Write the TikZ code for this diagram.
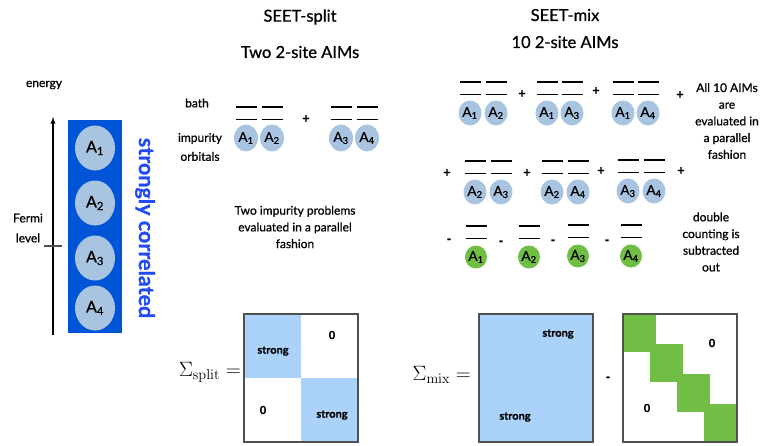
\documentclass[tikz,border=0pt]{standalone}
\usepackage[no-math]{fontspec}
\setmainfont{Lato}[FakeBold=0.8]
\usetikzlibrary{shapes.geometric}

\definecolor{corrblue}{RGB}{0,85,214}
\definecolor{corrtext}{RGB}{35,75,245}
\definecolor{orbblue}{RGB}{168,196,224}
\definecolor{selfblue}{RGB}{170,210,250}
\definecolor{dcgreen}{RGB}{112,190,68}
\definecolor{framegray}{RGB}{80,80,80}

\begin{document}
\begin{tikzpicture}[
        x=1pt, y=-1pt,
        orb/.style={ellipse, fill=orbblue, inner sep=0pt, minimum width=23pt,
          minimum height=25pt, font=\fontsize{13.5}{13.5}\selectfont},
        bigorb/.style={orb, minimum width=40pt, minimum height=45pt,
          font=\fontsize{16}{16}\selectfont},
        splitorb/.style={orb, minimum width=24pt, minimum height=27pt},
        dcorb/.style={orb, fill=dcgreen, minimum width=22pt, minimum height=23pt},
        title/.style={font=\fontsize{16.5}{20}\selectfont},
        note/.style={align=center, font=\fontsize{12}{16.7}\selectfont},
        op/.style={font=\fontsize{13}{13}\selectfont\bfseries},
        level/.style={line width=1.2pt},
        entry/.style={font=\fontsize{11}{12}\selectfont\bfseries},
        sigma/.style={font=\fontsize{22}{24}\selectfont, inner sep=0pt}]

  \useasboundingbox (0,0) rectangle (760,445);

  % energy axis and strongly correlated orbitals -----------
  \node[note] (energy) at (44,85) {energy};
  \coordinate (ebot) at (53,335);
  \coordinate (etop) at (53,117);
  \draw[line width=1.3pt, -latex] (ebot) -- (etop);
  \draw[line width=2.5pt, framegray] (44,246) -- (62,246);
  \node[note, font=\fontsize{12}{20}\selectfont] (fermi) at (28,228) {Fermi\\level};
  \fill[corrblue] (68,120) rectangle (122,333);
  \node[bigorb] (a1) at (95,148) {A\textsubscript{1}};
  \node[bigorb] (a2) at (95,203) {A\textsubscript{2}};
  \node[bigorb] (a3) at (95,258) {A\textsubscript{3}};
  \node[bigorb] (a4) at (95,308) {A\textsubscript{4}};
  \node[rotate=-90, text=corrtext, font=\fontsize{21.5}{21.5}\selectfont\bfseries]
    (corr) at (145,228) {strongly correlated};

  % SEET-split ----------------------------------------------
  \node[title] (splittitle) at (300,17) {SEET-split};
  \node[title] (splitsub) at (300,52) {Two 2-site AIMs};
  \node[note] (bath) at (197,103) {bath};
  \node[note, font=\fontsize{12}{19}\selectfont] (imp) at (200,147) {impurity\\orbitals};
  \node[splitorb] (s1) at (246,138) {A\textsubscript{1}};
  \node[splitorb] (s2) at (272,138) {A\textsubscript{2}};
  \node[splitorb] (s3) at (341,138) {A\textsubscript{3}};
  \node[splitorb] (s4) at (367,138) {A\textsubscript{4}};
  \node[op] (splitplus) at (306,119) {+};
  \node[note] (splitnote) at (295,227)
    {Two impurity problems\\evaluated in a parallel\\fashion};

  % SEET-mix ------------------------------------------------
  \node[title] (mixtitle) at (565,15) {SEET-mix};
  \node[title] (mixsub) at (565,42) {10 2-site AIMs};
  \node[orb] (m12l) at (470,113) {A\textsubscript{1}};
  \node[orb] (m12r) at (496,113) {A\textsubscript{2}};
  \node[orb] (m13l) at (547,113) {A\textsubscript{1}};
  \node[orb] (m13r) at (572,113) {A\textsubscript{3}};
  \node[orb] (m14l) at (623,113) {A\textsubscript{1}};
  \node[orb] (m14r) at (648,113) {A\textsubscript{4}};
  \node[orb] (m23l) at (475,192) {A\textsubscript{2}};
  \node[orb] (m23r) at (501,192) {A\textsubscript{3}};
  \node[orb] (m24l) at (552,192) {A\textsubscript{2}};
  \node[orb] (m24r) at (578,192) {A\textsubscript{4}};
  \node[orb] (m34l) at (628,191) {A\textsubscript{3}};
  \node[orb] (m34r) at (654,191) {A\textsubscript{4}};
  \node[dcorb] (d1) at (476,257) {A\textsubscript{1}};
  \node[dcorb] (d2) at (529,257) {A\textsubscript{2}};
  \node[dcorb] (d3) at (578,256) {A\textsubscript{3}};
  \node[dcorb] (d4) at (631,256) {A\textsubscript{4}};

  \foreach \x/\y in {522/94, 596/91, 680/95, 447/173, 527/173, 601/171, 681/171}
    \node[op] at (\x,\y) {+};
  \foreach \x/\y in {449/241, 501/243, 553/242, 607/242}
    \node[op] at (\x,\y) {-};

  \node[note] (allnote) at (727,121)
    {All 10 AIMs\\are\\evaluated in\\a parallel\\fashion};
  \node[note] (dcnote) at (711,242)
    {double\\counting is\\subtracted\\out};

  % bath levels above every impurity orbital ---------------
  \foreach \n in {s1,s2,s3,s4,m12l,m12r,m13l,m13r,m14l,m14r,
                  m23l,m23r,m24l,m24r,m34l,m34r,d1,d2,d3,d4}
    \draw[level] ([shift={(-10.5,-31)}]\n.center) -- ++(21,0)
                 ([shift={(-10.5,-18.5)}]\n.center) -- ++(21,0);

  % self-energy matrices -----------------------------------
  \node[sigma, anchor=east] (sigsplit) at (241,372) {$\Sigma_{\mathrm{split}} =$};
  \fill[selfblue] (244,314) rectangle (301,378);
  \fill[selfblue] (301,378) rectangle (358,442);
  \draw[framegray, line width=1.8pt] (244,314) rectangle (358,442);
  \node[entry] (st1) at (273,351) {strong};
  \node[entry] (z1) at (332,335) {0};
  \node[entry] (z2) at (263,410) {0};
  \node[entry] (st2) at (332,415) {strong};

  \node[sigma, anchor=east] (sigmix) at (471,375) {$\Sigma_{\mathrm{mix}} =$};
  \fill[selfblue] (479,314) rectangle (593,442);
  \draw[framegray, line width=1.8pt] (479,314) rectangle (593,442);
  \node[entry] (st3) at (558,334) {strong};
  \node[entry] (st4) at (515,417) {strong};
  \node[op] (minus) at (608,379) {-};
  \foreach \i in {0,...,3}
    \fill[dcgreen] (623+27*\i,314+30*\i) rectangle ++(33,38);
  \draw[framegray, line width=1.8pt] (623,314) rectangle (737,442);
  \node[entry] (z3) at (712,343) {0};
  \node[entry] (z4) at (647,408) {0};

\end{tikzpicture}
\end{document}
